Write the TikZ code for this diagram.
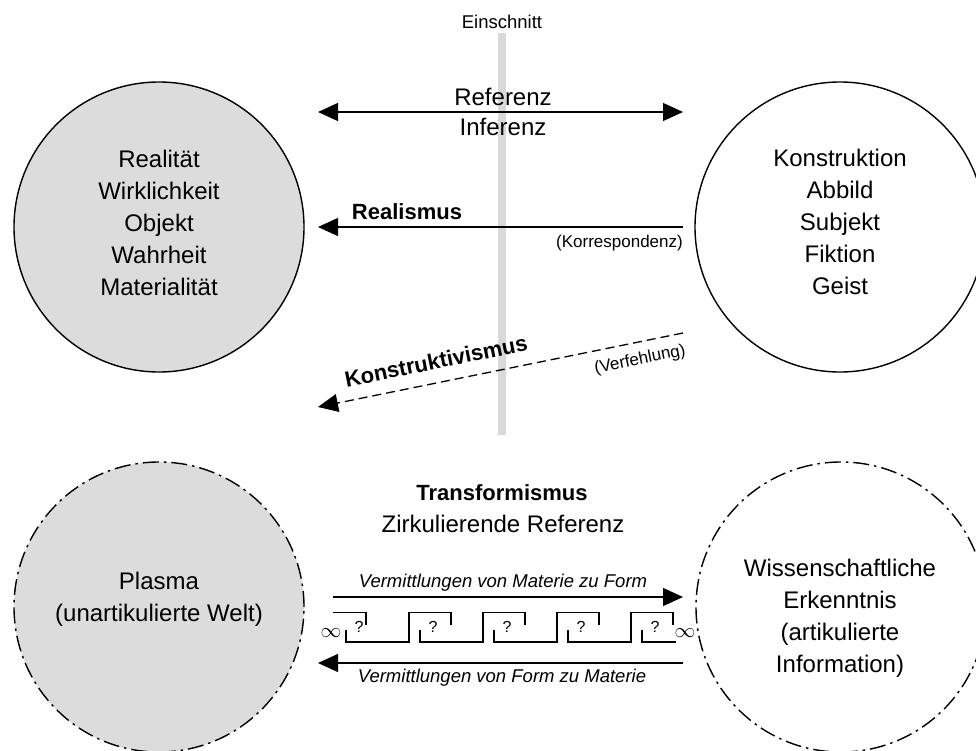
\documentclass[tikz,border=0pt]{standalone}
\usepackage{fontspec}
\setmainfont{Liberation Sans}
\usetikzlibrary{arrows.meta}
\definecolor{circgray}{HTML}{DCDCDC}
\definecolor{bargray}{HTML}{D9D9D9}
\begin{document}
\begin{tikzpicture}[x=1pt,y=-1pt,
  bigcirc/.style={circle, draw, line width=1.4pt, minimum size=290pt, inner sep=0pt},
  dotc/.style={bigcirc, dash pattern=on 16pt off 5pt on 2.5pt off 5pt},
  ctext/.style={align=center, font={\fontsize{24}{32}\selectfont}, inner sep=0pt},
  midtext/.style={font={\fontsize{24}{28}\selectfont}, inner sep=0pt},
  boldtext/.style={font={\fontsize{22}{26}\selectfont\bfseries}, inner sep=0pt},
  smalltext/.style={font={\fontsize{17}{20}\selectfont}, inner sep=0pt},
  cuttext/.style={font={\fontsize{18.5}{22}\selectfont}, inner sep=0pt},
  ittext/.style={font={\fontsize{18.5}{22}\selectfont\itshape}, inner sep=0pt},
  qtext/.style={font={\fontsize{16}{18}\selectfont}, inner sep=0pt},
  inftext/.style={font={\fontsize{22}{24}\selectfont}, inner sep=0pt},
  arr/.style={line width=1.3pt, -{Triangle[length=20pt,width=18pt]}},
  darr/.style={arr, dash pattern=on 9pt off 5pt},
  zig/.style={line width=1.3pt, line cap=butt, line join=miter}
]
\clip (0,0) rectangle (976,751);
% cut bar
\fill[bargray] (497.5,33) rectangle (506,435);
\node[cuttext] (cut) at (502,22) {Einschnitt};

% circles
\node[bigcirc, fill=circgray] (real) at (159,227) {};
\node[bigcirc] (konst) at (840,227) {};
\node[dotc, fill=circgray] (plasma) at (159,607) {};
\node[dotc] (wiss) at (841,607) {};

\node[ctext] (realtxt) at (159,223) {Realität\\Wirklichkeit\\Objekt\\Wahrheit\\Materialität};
\node[ctext] (konsttxt) at (840,222) {Konstruktion\\Abbild\\Subjekt\\Fiktion\\Geist};
\node[ctext] (plasmatxt) at (159,599) {Plasma\\(unartikulierte Welt)};
\node[ctext] (wisstxt) at (840,618) {Wissenschaftliche\\Erkenntnis\\(artikulierte\\Information)};

% Referenz / Inferenz
\coordinate (refL) at (318,112);
\coordinate (refR) at (683,112);
\draw[line width=1.3pt, {Triangle[length=20pt,width=18pt]}-{Triangle[length=20pt,width=18pt]}] (refL) -- (refR);
\node[midtext] (referenz) at (503,97) {Referenz};
\node[midtext] (inferenz) at (503,127) {Inferenz};

% Realismus
\coordinate (reaR) at (683,227);
\coordinate (reaL) at (318,227);
\draw[arr] (reaR) -- (reaL);
\node[boldtext] (realismus) at (407,212) {Realismus};
\node[smalltext, anchor=east] (korr) at (683,243) {(Korrespondenz)};

% Konstruktivismus
\coordinate (kR) at (683,333);
\coordinate (kL) at (318,407);
\draw[darr] (kR) -- (kL);
\node[boldtext, rotate=11.46] (konstr) at (436,361) {Konstruktivismus};
\node[smalltext, rotate=11.46] (verf) at (640,360) {(Verfehlung)};

% Transformismus
\node[boldtext] (trans) at (502,493) {Transformismus};
\node[midtext] (zirk) at (503,524) {Zirkulierende Referenz};

\coordinate (mfL) at (333,597);
\coordinate (mfR) at (683,597);
\draw[arr] (mfL) -- (mfR);
\node[ittext] (mflbl) at (503,583) {Vermittlungen von Materie zu Form};

\coordinate (fmR) at (683,663);
\coordinate (fmL) at (318,663);
\draw[arr] (fmR) -- (fmL);
\node[ittext] (fmlbl) at (502,678) {Vermittlungen von Form zu Materie};

% chain of mediations
\draw[zig] (333,612.7) -- (366,612.7) -- (366,625);
\foreach \k in {0,...,3} {
  \pgfmathsetmacro\s{346+74*\k}
  \draw[zig] (\s,630) -- (\s,642) -- ({\s+63},642) -- ({\s+63},612.7) -- ({\s+105},612.7) -- ({\s+105},625);
}
\draw[zig] (642,630) -- (642,642) -- (676,642);
\foreach \k in {0,...,4} {
  \node[qtext] (q\k) at ({359+74*\k},627) {?};
}
\node[inftext] (infL) at (331,633) {$\infty$};
\node[inftext] (infR) at (685,633) {$\infty$};
\end{tikzpicture}
\end{document}
